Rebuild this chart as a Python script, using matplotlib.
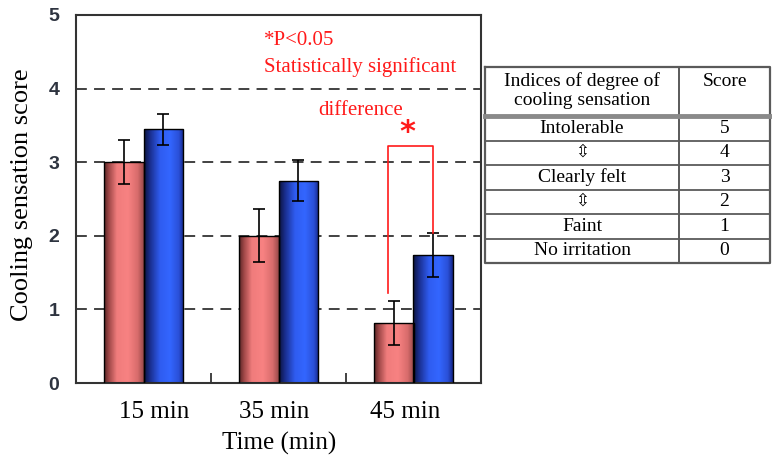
import numpy as np
import matplotlib
matplotlib.use('Agg')
import matplotlib.pyplot as plt
from matplotlib.colors import LinearSegmentedColormap

# data
times = ['15 min', '35 min', '45 min']
pink_mean = [3.00, 2.00, 0.81]
pink_err = [0.30, 0.36, 0.30]
blue_mean = [3.45, 2.75, 1.74]
blue_err = [0.21, 0.28, 0.30]

table_header = ['Indices of degree of\ncooling sensation', 'Score']
table_labels = ['Intolerable', '\u21f3', 'Clearly felt', '\u21f3', 'Faint', 'No irritation']
table_scores = ['5', '4', '3', '2', '1', '0']

SERIF = 'Liberation Serif'
RED = '#ff1a1a'

pink_cmap = LinearSegmentedColormap.from_list(
    'pink', [(0, '#5a2626'), (0.12, '#a04848'), (0.32, '#f07c7c'),
             (0.6, '#f88282'), (0.85, '#d86c6c'), (1, '#9a4a4a')])
blue_cmap = LinearSegmentedColormap.from_list(
    'blue', [(0, '#0c1440'), (0.15, '#1a2f90'), (0.4, '#2f5cf0'),
             (0.65, '#3366ff'), (0.88, '#2a50d8'), (1, '#16288a')])

fig = plt.figure(figsize=(7.72, 4.59), dpi=100)
ax = fig.add_axes([76 / 772, 1 - 383 / 459, 405 / 772, 368 / 459])

x = np.arange(len(times))
w = 0.289


def gradient_bars(xs, heights, cmap):
    bars = ax.bar(xs, heights, width=w, facecolor='none', edgecolor='black',
                  lw=1.0, zorder=3)
    grad = np.linspace(0, 1, 64).reshape(1, -1)
    for b in bars:
        x0, y0 = b.get_x(), b.get_y()
        im = ax.imshow(grad, cmap=cmap, aspect='auto', zorder=2,
                       extent=(x0, x0 + b.get_width(), y0, y0 + b.get_height()))
        im.set_clip_path(b)
    return bars


for y in [1, 2, 3, 4]:
    ax.axhline(y, color='#333333', lw=1.3, ls=(0, (6, 4)), zorder=1)

gradient_bars(x - w / 2, pink_mean, pink_cmap)
gradient_bars(x + w / 2, blue_mean, blue_cmap)
ax.errorbar(x - w / 2, pink_mean, yerr=pink_err, fmt='none', ecolor='black',
            elinewidth=1.2, capsize=4, capthick=1.2, zorder=4)
ax.errorbar(x + w / 2, blue_mean, yerr=blue_err, fmt='none', ecolor='black',
            elinewidth=1.2, capsize=4, capthick=1.2, zorder=4)

ax.set_xlim(-0.5, 2.5)
ax.set_ylim(0, 5)

# significance bracket at 45 min
bx0, bx1 = 1.81, 2 + w / 2
ax.plot([bx0, bx0, bx1, bx1], [1.22, 3.22, 3.22, blue_mean[2] + blue_err[2]],
        color=RED, lw=1.2, zorder=5)
ax.text(1.952, 3.40, '*', color=RED, fontsize=22, fontweight='bold',
        ha='center', va='center', family='DejaVu Sans')
ax.text(0.893, 4.65, '*P<0.05', color=RED, fontsize=15, family=SERIF,
        ha='left', va='center')
ax.text(0.893, 4.29, 'Statistically significant', color=RED, fontsize=15,
        family=SERIF, ha='left', va='center')
ax.text(1.611, 3.70, 'difference', color=RED, fontsize=15, family=SERIF,
        ha='center', va='center')

# axes styling
for s in ax.spines.values():
    s.set_color('#333333')
    s.set_linewidth(1.5)
ax.set_yticks([0, 1, 2, 3, 4, 5])
ax.set_yticklabels(['0', '1', '2', '3', '4', '5'], family='Liberation Sans',
                   fontweight='bold', fontsize=14, color='#2e3440')
ax.tick_params(axis='y', length=0, pad=12)
ax.set_xticks([0.5, 1.5])
ax.set_xticklabels([])
ax.tick_params(axis='x', direction='in', length=7, width=1.3, color='#333333')

tr = ax.get_xaxis_transform()
for xi, off, lab in zip(x, [0.08, -0.03, -0.06], times):
    ax.text(xi + off, -0.078, lab, transform=tr, fontsize=18, family=SERIF,
            ha='center', va='center')
ax.text(1.004, -0.163, 'Time (min)', transform=tr, fontsize=18, family=SERIF,
        ha='center', va='center')
fig.text(22 / 772, 1 - 195 / 459, 'Cooling sensation score', rotation=90,
         fontsize=19, family=SERIF, ha='center', va='center')

# score table on the right (pixel-like coords inside its own axes)
tax = fig.add_axes([485 / 772, 1 - 263 / 459, 285 / 772, 196 / 459])
tax.set_xlim(0, 285)
tax.set_ylim(196, 0)
tax.axis('off')
line_c = '#5a5a5a'
col_x = 194
head_h = 49
row_h = (196 - head_h) / len(table_labels)
tax.plot([0, 285, 285, 0, 0], [0, 0, 196, 196, 0], color=line_c, lw=1.6,
         clip_on=False)
tax.plot([col_x, col_x], [0, 196], color=line_c, lw=1.4, clip_on=False)
tax.plot([0, 285], [head_h, head_h], color='#8a8a8a', lw=3.5, clip_on=False)
for i in range(1, len(table_labels)):
    yy = head_h + i * row_h
    tax.plot([0, 285], [yy, yy], color=line_c, lw=1.3, clip_on=False)

tax.text(col_x / 2, head_h / 2 - 1, table_header[0], fontsize=14, family=SERIF,
         ha='center', va='center', linespacing=1.2)
tax.text((col_x + 285) / 2, 14, table_header[1], fontsize=14, family=SERIF,
         ha='center', va='center')
for i, (lab, sc) in enumerate(zip(table_labels, table_scores)):
    yy = head_h + (i + 0.5) * row_h
    fam = [SERIF, 'DejaVu Sans']
    tax.text(col_x / 2, yy, lab, fontsize=14 if lab != '\u21f3' else 12,
             family=fam, ha='center', va='center')
    tax.text((col_x + 285) / 2, yy, sc, fontsize=14, family=SERIF,
             ha='center', va='center')

fig.savefig('out.png', dpi=100)
